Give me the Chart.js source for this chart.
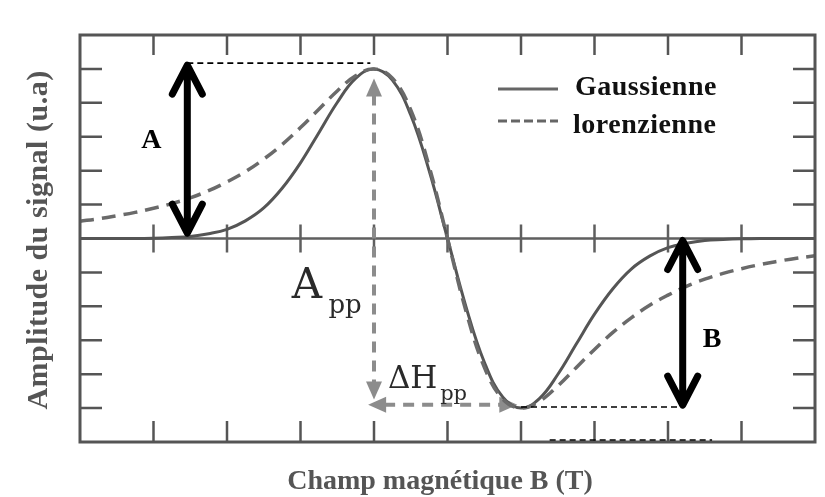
<!DOCTYPE html>
<html>
<head>
<meta charset="utf-8">
<script src="https://cdn.jsdelivr.net/npm/chart.js@4.4.1/dist/chart.umd.min.js"></script>
<style>
  html, body { margin: 0; padding: 0; background: #fff; }
  #wrap { width: 825px; height: 497px; }
</style>
</head>
<body>
<div id="wrap"><canvas id="epr" width="825" height="497"></canvas></div>
<script>
// magnetic field (arbitrary units along the x axis)
const field = [0, 0.25, 0.5, 0.75, 1, 1.25, 1.5, 1.75, 2, 2.25, 2.5, 2.75, 3, 3.25, 3.5, 3.75, 4, 4.25, 4.5, 4.75,
  5, 5.25, 5.5, 5.75, 6, 6.25, 6.5, 6.75, 7, 7.25, 7.5, 7.75, 8, 8.25, 8.5, 8.75, 9, 9.25, 9.5, 9.75, 10];
const gaussienne = [0, 0, 0, 0, 0.01, 0.03, 0.06, 0.14, 0.27, 0.52, 0.9, 1.48, 2.23, 3.12, 4.01, 4.72, 5, 4.67, 3.64, 2,
  0, -2, -3.64, -4.67, -5, -4.72, -4.01, -3.12, -2.23, -1.48, -0.9, -0.52, -0.27, -0.14, -0.06, -0.03, -0.01, 0, 0, 0, 0];
const lorenzienne = [0.51, 0.58, 0.67, 0.77, 0.89, 1.03, 1.2, 1.41, 1.67, 1.97, 2.34, 2.77, 3.27, 3.81, 4.35, 4.8, 5, 4.73, 3.79, 2.13,
  0, -2.13, -3.79, -4.73, -5, -4.8, -4.35, -3.81, -3.27, -2.77, -2.34, -1.97, -1.67, -1.41, -1.2, -1.03, -0.89, -0.77, -0.67, -0.58, -0.51];
const xTicks = [1, 2, 3, 4, 5, 6, 7, 8, 9];
const yTicks = [-5, -4, -3, -2, -1, 1, 2, 3, 4, 5];

const toPoints = ys => field.map((x, i) => ({ x: x, y: ys[i] }));

function arrowBar(ctx, x, yTop, yBot) {
  // thick black double arrow with open heads
  ctx.save();
  ctx.strokeStyle = '#000';
  ctx.lineWidth = 7;
  ctx.lineCap = 'round';
  ctx.lineJoin = 'round';
  ctx.beginPath();
  ctx.moveTo(x, yTop + 3); ctx.lineTo(x, yBot - 3);
  ctx.moveTo(x - 15, yTop + 31); ctx.lineTo(x, yTop + 2); ctx.lineTo(x + 15, yTop + 31);
  ctx.moveTo(x - 15, yBot - 31); ctx.lineTo(x, yBot - 2); ctx.lineTo(x + 15, yBot - 31);
  ctx.stroke();
  ctx.restore();
}

function thinDash(ctx, x1, x2, y) {
  ctx.save();
  ctx.strokeStyle = '#000';
  ctx.lineWidth = 1.6;
  ctx.setLineDash([6, 4]);
  ctx.beginPath(); ctx.moveTo(x1, y); ctx.lineTo(x2, y); ctx.stroke();
  ctx.restore();
}

function grayHead(ctx, x, y, dir) {
  // filled triangle, dir: 'up','down','left','right'
  const l = 18, w = 8;
  ctx.beginPath();
  if (dir === 'up') { ctx.moveTo(x, y); ctx.lineTo(x - w, y + l); ctx.lineTo(x + w, y + l); }
  if (dir === 'down') { ctx.moveTo(x, y); ctx.lineTo(x - w, y - l); ctx.lineTo(x + w, y - l); }
  if (dir === 'left') { ctx.moveTo(x, y); ctx.lineTo(x + l, y - w); ctx.lineTo(x + l, y + w); }
  if (dir === 'right') { ctx.moveTo(x, y); ctx.lineTo(x - l, y - w); ctx.lineTo(x - l, y + w); }
  ctx.closePath();
  ctx.fill();
}

const framePlugin = {
  id: 'framePlugin',
  beforeDatasetsDraw(chart) {
    const { ctx, chartArea: a, scales: { x, y } } = chart;
    const y0 = y.getPixelForValue(0);
    ctx.save();
    // zero line with crossing ticks
    ctx.strokeStyle = '#5f5f5f';
    ctx.lineWidth = 2.5;
    ctx.beginPath();
    ctx.moveTo(a.left, y0); ctx.lineTo(a.right, y0);
    xTicks.forEach(v => {
      const px = x.getPixelForValue(v);
      ctx.moveTo(px, y0 - 14); ctx.lineTo(px, y0 + 14);
    });
    ctx.stroke();

    // gray A_pp / dH_pp arrows
    ctx.strokeStyle = '#8c8c8c';
    ctx.fillStyle = '#8c8c8c';
    ctx.lineWidth = 4;
    ctx.setLineDash([11, 8]);
    const xp = x.getPixelForValue(4);
    const yTop = y.getPixelForValue(4.72), yBot = y.getPixelForValue(-4.75);
    const yH = y.getPixelForValue(-4.9);
    const xL = x.getPixelForValue(3.92), xR = x.getPixelForValue(5.95);
    ctx.beginPath();
    ctx.moveTo(xp, yTop + 16); ctx.lineTo(xp, yBot - 14);
    ctx.moveTo(xL + 16, yH); ctx.lineTo(xR - 16, yH);
    ctx.stroke();
    ctx.setLineDash([]);
    grayHead(ctx, xp, yTop, 'up');
    grayHead(ctx, xp, yBot, 'down');
    grayHead(ctx, xL, yH, 'left');
    grayHead(ctx, xR, yH, 'right');
    ctx.restore();
  },
  afterDatasetsDraw(chart) {
    const { ctx, chartArea: a, scales: { x, y } } = chart;
    ctx.save();
    // frame and inward ticks
    ctx.strokeStyle = '#555';
    ctx.lineWidth = 2.5;
    ctx.beginPath();
    xTicks.forEach(v => {
      const px = x.getPixelForValue(v);
      ctx.moveTo(px, a.top); ctx.lineTo(px, a.top + 20);
      ctx.moveTo(px, a.bottom); ctx.lineTo(px, a.bottom - 21);
    });
    yTicks.forEach(v => {
      const py = y.getPixelForValue(v);
      ctx.moveTo(a.left, py); ctx.lineTo(a.left + 22, py);
      ctx.moveTo(a.right, py); ctx.lineTo(a.right - 22, py);
    });
    ctx.stroke();
    ctx.lineWidth = 3;
    ctx.strokeRect(a.left, a.top, a.right - a.left, a.bottom - a.top);

    // legend
    const lx = a.left + 418;
    ctx.strokeStyle = '#666';
    ctx.lineWidth = 3;
    ctx.beginPath(); ctx.moveTo(lx, 89); ctx.lineTo(lx + 60, 89); ctx.stroke();
    ctx.setLineDash([9, 4]);
    ctx.beginPath(); ctx.moveTo(lx, 121); ctx.lineTo(lx + 60, 121); ctx.stroke();
    ctx.setLineDash([]);
    ctx.fillStyle = '#111';
    ctx.font = 'bold 28px "Liberation Serif"';
    ctx.letterSpacing = '0.5px';
    ctx.textBaseline = 'alphabetic';
    ctx.fillText('Gaussienne', lx + 77, 95);
    ctx.fillText('lorenzienne', lx + 75, 133);
    ctx.letterSpacing = '0px';

    // amplitude annotations A and B
    const xa = x.getPixelForValue(1.46);
    const ya = y.getPixelForValue(5.17);
    arrowBar(ctx, xa, ya, y.getPixelForValue(0.1));
    thinDash(ctx, xa, x.getPixelForValue(3.95), ya);
    const xb = x.getPixelForValue(8.2);
    const yb = y.getPixelForValue(-4.97);
    arrowBar(ctx, xb, y.getPixelForValue(0), yb);
    thinDash(ctx, x.getPixelForValue(6), xb, yb);
    thinDash(ctx, x.getPixelForValue(6.39), x.getPixelForValue(8.6), y.getPixelForValue(-5.94));

    ctx.fillStyle = '#000';
    ctx.font = 'bold 28px "Liberation Serif"';
    ctx.textAlign = 'center';
    ctx.fillText('A', x.getPixelForValue(0.97), y.getPixelForValue(2.67));
    ctx.fillText('B', x.getPixelForValue(8.6), y.getPixelForValue(-3.2));

    // A_pp and dH_pp labels
    ctx.textAlign = 'left';
    ctx.fillStyle = '#2a2a2a';
    ctx.font = '42px "DejaVu Serif"';
    ctx.fillText('A', x.getPixelForValue(2.88), y.getPixelForValue(-1.75));
    ctx.font = '26px "DejaVu Serif"';
    ctx.fillText('pp', x.getPixelForValue(3.38), y.getPixelForValue(-2.19));
    ctx.font = '31px "DejaVu Serif"';
    ctx.fillText('\u0394H', x.getPixelForValue(4.19), y.getPixelForValue(-4.4));
    ctx.font = '21px "DejaVu Serif"';
    ctx.fillText('pp', x.getPixelForValue(4.9), y.getPixelForValue(-4.77));

    // axis titles
    ctx.fillStyle = '#555';
    ctx.font = 'bold 28px "Liberation Serif"';
    ctx.textAlign = 'center';
    ctx.fillText('Champ magnétique B (T)', 440, 489);
    ctx.translate(47, 240);
    ctx.rotate(-Math.PI / 2);
    ctx.font = 'bold 30px "Liberation Serif"';
    ctx.letterSpacing = '0.5px';
    ctx.fillText('Amplitude du signal (u.a)', 0, 0);
    ctx.restore();
  }
};

new Chart(document.getElementById('epr').getContext('2d'), {
  type: 'line',
  data: {
    datasets: [
      {
        label: 'lorenzienne',
        data: toPoints(lorenzienne),
        borderColor: '#6a6a6a',
        borderWidth: 3.5,
        borderDash: [14, 8],
        pointRadius: 0,
        tension: 0.4,
        fill: false
      },
      {
        label: 'Gaussienne',
        data: toPoints(gaussienne),
        borderColor: '#555',
        borderWidth: 3,
        pointRadius: 0,
        tension: 0.4,
        fill: false
      }
    ]
  },
  options: {
    responsive: false,
    animation: false,
    layout: { padding: { left: 80, right: 10, top: 35, bottom: 55 } },
    plugins: { legend: { display: false }, tooltip: { enabled: false } },
    scales: {
      x: { type: 'linear', min: 0, max: 10, display: false },
      y: { type: 'linear', min: -6, max: 6, display: false }
    }
  },
  plugins: [framePlugin]
});
</script>
</body>
</html>
